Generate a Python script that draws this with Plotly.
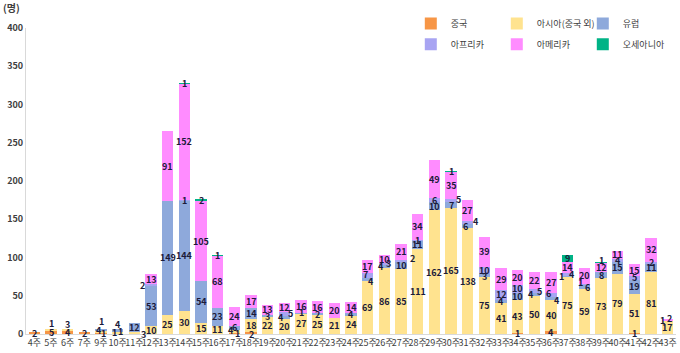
import plotly.graph_objects as go

weeks = ["4주", "5주", "6주", "7주", "9주", "10주", "11주", "12주", "13주", "14주",
         "15주", "16주", "17주", "18주", "19주", "20주", "21주", "22주", "23주", "24주",
         "25주", "26주", "27주", "28주", "29주", "30주", "31주", "32주", "33주", "34주",
         "35주", "36주", "37주", "38주", "39주", "40주", "41주", "42주", "43주"]

china    = [2, 5, 4, 2, 1, 1, 0, 0, 0, 0, 0, 0, 1, 2, 0, 0, 0, 0, 0, 0,
            0, 0, 0, 0, 0, 0, 0, 0, 0, 1, 0, 4, 0, 0, 0, 0, 1, 0, 0]
asia     = [0, 1, 3, 0, 4, 1, 3, 10, 25, 30, 15, 11, 4, 18, 22, 20, 27, 25, 21, 24,
            69, 86, 85, 111, 162, 165, 138, 75, 41, 43, 50, 40, 75, 59, 73, 79, 51, 81, 17]
europe   = [0, 0, 0, 0, 1, 4, 12, 53, 149, 144, 54, 23, 6, 14, 3, 4, 1, 2, 0, 4,
            4, 4, 10, 11, 10, 7, 6, 3, 4, 10, 4, 4, 1, 6, 8, 15, 19, 11, 1]
africa   = [0, 0, 0, 0, 0, 0, 0, 2, 0, 1, 0, 0, 0, 0, 0, 5, 0, 0, 0, 0,
            7, 3, 2, 1, 6, 5, 4, 10, 12, 10, 5, 6, 4, 1, 0, 4, 5, 2, 0]
americas = [0, 0, 0, 0, 0, 0, 0, 13, 91, 152, 105, 68, 24, 17, 13, 12, 16, 16, 20, 14,
            17, 10, 21, 34, 49, 35, 27, 39, 29, 20, 22, 27, 14, 20, 12, 11, 15, 32, 2]
oceania  = [0, 0, 0, 0, 0, 0, 0, 0, 0, 1, 2, 1, 0, 0, 0, 0, 0, 0, 0, 0,
            0, 0, 0, 0, 0, 1, 0, 0, 0, 0, 0, 0, 9, 0, 1, 0, 0, 0, 0]

series_names = ["중국", "아시아(중국 외)", "유럽", "아프리카", "아메리카", "오세아니아"]
series_vals = [china, asia, europe, africa, americas, oceania]
colors = ["#F79646", "#FFE38F", "#8EA9DB", "#A8A4F2", "#FF8CFF", "#00B386"]
legend_ids = ["legend", "legend", "legend", "legend2", "legend2", "legend2"]

# label nudges (pixels) for crowded small segments: (week, series index) -> (dx, dy)
label_nudge = {
    ("5주", 1): (0, 6), ("6주", 1): (0, 5),
    ("9주", 2): (0, 8), ("9주", 0): (2, 0), ("9주", 1): (-2, 1),
    ("10주", 2): (0, 6), ("10주", 0): (-3, 1), ("10주", 1): (3, 1),
    ("11주", 1): (9, -2), ("12주", 3): (-9, 0),
    ("17주", 0): (3, 0), ("17주", 1): (-3, 1),
    ("18주", 0): (0, -1),
    ("20주", 2): (-3, 0), ("20주", 3): (6, 0),
    ("25주", 2): (3, -2), ("25주", 3): (-2, 1),
    ("26주", 2): (-3, 0), ("26주", 3): (4, 1),
    ("27주", 3): (11, 2), ("30주", 3): (7, 1),
    ("31주", 2): (-2, 0), ("31주", 3): (8, 1),
    ("32주", 2): (0, -1), ("35주", 2): (-3, 0), ("35주", 3): (5, -1),
    ("36주", 2): (6, -2), ("36주", 3): (-3, 1),
    ("37주", 2): (-6, 0), ("37주", 3): (4, 0),
    ("38주", 2): (3, -1), ("38주", 3): (-4, 1),
    ("39주", 5): (0, 2), ("43주", 2): (-5, 0), ("43주", 4): (2, 1),
}

FONT = "Noto Sans CJK KR"

fig = go.Figure()
for name, vals, col, lg in zip(series_names, series_vals, colors, legend_ids):
    fig.add_trace(go.Bar(
        x=weeks,
        y=[v if v else None for v in vals],
        name=name,
        legend=lg,
        marker=dict(color=col, line=dict(width=0)),
        hoverinfo="x+y+name",
    ))

annotations = []
base = [0] * len(weeks)
for si, vals in enumerate(series_vals):
    for wi, v in enumerate(vals):
        if v:
            dx, dy = label_nudge.get((weeks[wi], si), (0, 0))
            annotations.append(dict(
                x=weeks[wi], y=base[wi] + v / 2, xref="x", yref="y",
                text=str(v), showarrow=False, xshift=dx, yshift=dy,
                font=dict(family=FONT, size=9, color="#1B1B3A", weight="bold"),
            ))
            base[wi] += v

annotations.append(dict(
    text="(명)", xref="paper", yref="paper", x=-0.038, y=1.068,
    xanchor="left", yanchor="middle", showarrow=False,
    font=dict(family=FONT, size=10, color="#404040", weight="bold"),
))

legend_common = dict(
    orientation="h",
    xanchor="left", yanchor="top",
    traceorder="normal",
    entrywidth=41, entrywidthmode="pixels",
    font=dict(family=FONT, size=9, color="#404040"),
    itemwidth=30,
    bgcolor="rgba(0,0,0,0)",
)

fig.update_layout(
    width=680, height=353,
    barmode="stack",
    bargap=0.33,
    plot_bgcolor="white",
    paper_bgcolor="white",
    margin=dict(l=26, r=4, t=28, b=19, autoexpand=False),
    font=dict(family=FONT, size=9, color="#404040"),
    showlegend=True,
    legend=dict(x=0.592, y=1.062, **legend_common),
    legend2=dict(x=0.592, y=0.994, **legend_common),
    xaxis=dict(
        showline=True, linecolor="#D9D9D9", linewidth=1,
        ticks="", showgrid=False,
        tickfont=dict(family=FONT, size=9, color="#404040"),
        tickangle=0,
    ),
    yaxis=dict(
        range=[0, 400], dtick=50,
        showline=True, linecolor="#D9D9D9", linewidth=1,
        showgrid=False, zeroline=False, ticks="",
        tickfont=dict(family=FONT, size=9, color="#404040", weight="bold"),
    ),
    annotations=annotations,
)

fig.write_html("out.html")
